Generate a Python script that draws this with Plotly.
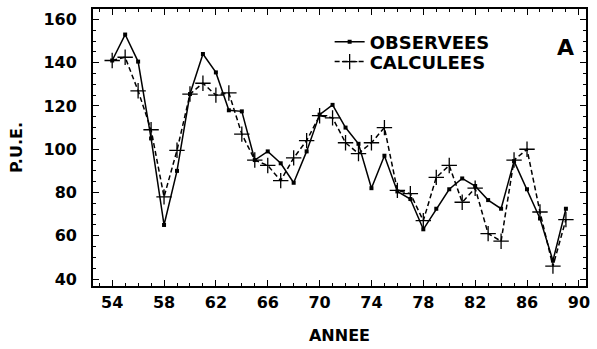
import plotly.graph_objects as go

years = list(range(54, 90))
observees = [141, 153, 140.5, 105, 65, 90, 125.5, 144, 135.5, 118, 117.5, 95,
             99, 93.5, 84.5, 99, 116, 120.5, 110, 102.5, 82, 97, 80.5, 77,
             63, 72.5, 81.5, 86.5, 83, 76.5, 72.5, 94.5, 81.5, 68, 48.5, 72.5]
calculees = [141, 142.5, 127, 109, 78, 99.5, 125.5, 130.5, 125, 126, 107, 95,
             92.5, 85.5, 96, 104, 115.5, 114.5, 103, 98, 103, 110, 81, 79.5,
             67, 87, 92.5, 75.5, 82, 61, 57.5, 95, 100, 71, 46, 67.5]
x_ticks = [54, 58, 62, 66, 70, 74, 78, 82, 86, 90]
y_ticks = [40, 60, 80, 100, 120, 140, 160]

FONT = "DejaVu Sans"
legfont = dict(family=FONT, size=18, color="black", weight="bold")

fig = go.Figure()
fig.add_trace(go.Scatter(
    x=years, y=observees, name="OBSERVEES", mode="lines+markers",
    line=dict(color="black", width=1.5),
    marker=dict(symbol="square", size=4, color="black"),
    legend="legend",
))
fig.add_trace(go.Scatter(
    x=years, y=calculees, name="CALCULEES", mode="lines+markers",
    line=dict(color="black", width=1.5, dash="5px,3px"),
    marker=dict(symbol="cross-thin", size=11, line=dict(color="black", width=1.3)),
    legend="legend2",
))

fig.add_annotation(text="<b>A</b>", x=0.979, y=0.915, xref="paper", yref="paper",
                   showarrow=False, font=dict(family=FONT, size=22, color="black"))

fig.update_layout(
    width=597, height=349,
    margin=dict(l=93, r=7, t=9, b=61),
    paper_bgcolor="white", plot_bgcolor="white",
    showlegend=True,
    legend=dict(x=0.48, y=0.881, xanchor="left", yanchor="middle",
                bgcolor="rgba(0,0,0,0)", itemwidth=30, font=legfont),
    legend2=dict(x=0.48, y=0.809, xanchor="left", yanchor="middle",
                 bgcolor="rgba(0,0,0,0)", itemwidth=30, font=legfont),
    font=dict(family=FONT, color="black"),
)

fig.update_xaxes(
    range=[52.52, 90.55], tickvals=x_ticks, ticktext=[str(v) for v in x_ticks],
    ticks="inside", ticklen=6, tickwidth=1.3, tickcolor="black",
    minor=dict(dtick=1, tick0=54, ticks="inside", ticklen=3, tickwidth=1, tickcolor="black"),
    showline=True, linecolor="black", linewidth=1.8, mirror="ticks",
    showgrid=False, zeroline=False,
    tickfont=dict(family=FONT, size=16, color="black", weight="bold"),
    ticklabelstandoff=1,
    title=dict(text="ANNEE", font=dict(family=FONT, size=16, color="black", weight="bold"), standoff=19),
)
fig.update_yaxes(
    range=[36.8, 164.8], tickvals=y_ticks, ticktext=[str(v) for v in y_ticks],
    ticks="inside", ticklen=6, tickwidth=1.3, tickcolor="black",
    minor=dict(dtick=5, tick0=40, ticks="inside", ticklen=3, tickwidth=1, tickcolor="black"),
    showline=True, linecolor="black", linewidth=1.8, mirror="ticks",
    showgrid=False, zeroline=False,
    tickfont=dict(family=FONT, size=16, color="black", weight="bold"),
    ticklabelstandoff=11,
    title=dict(text="P.U.E.", font=dict(family=FONT, size=16, color="black", weight="bold"), standoff=17),
)

fig.write_html("out.html")
